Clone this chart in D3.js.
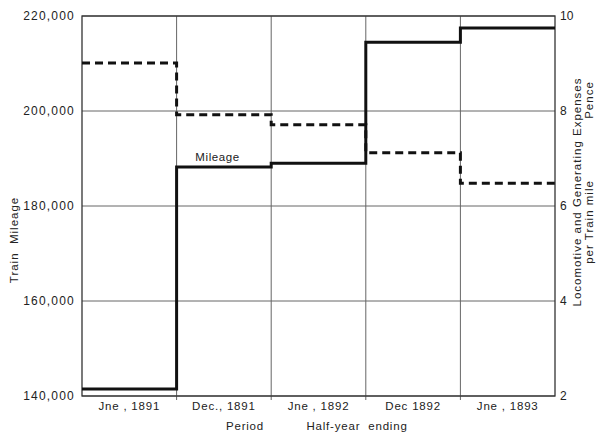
<!DOCTYPE html>
<html><head><meta charset="utf-8">
<script src="https://cdn.jsdelivr.net/npm/d3@7"></script>
<style>
html,body{margin:0;padding:0;background:#fff;}
text{font-family:"Liberation Sans",Arial,sans-serif;fill:#222;white-space:pre;}
</style></head>
<body>
<svg id="c" width="596" height="436"></svg>
<script>
const periods = ["Jne , 1891", "Dec., 1891", "Jne , 1892", "Dec 1892", "Jne , 1893"];
const mileage = [141500, 188200, 189000, 214500, 217500];
const expenses = [9.01, 7.92, 7.71, 7.12, 6.48];
const leftTicks = [140000, 160000, 180000, 200000, 220000];
const rightTicks = [2, 4, 6, 8, 10];

const svg = d3.select("#c");
const L = 82, R = 555, T = 16, B = 396;
const x = d3.scaleBand().domain(periods).range([L, R]).padding(0);
const yL = d3.scaleLinear().domain([140000, 220000]).range([B, T]);
const yR = d3.scaleLinear().domain([2, 10]).range([B, T]);
const fmt = d3.format(",");

// grid
const g = svg.append("g");
g.selectAll("line.h").data(leftTicks).join("line")
  .attr("x1", L).attr("x2", R).attr("y1", d => yL(d)).attr("y2", d => yL(d))
  .attr("stroke", "#666").attr("stroke-width", 1);
g.selectAll("line.v").data(periods.slice(1)).join("line")
  .attr("x1", d => x(d)).attr("x2", d => x(d)).attr("y1", T).attr("y2", B + 4)
  .attr("stroke", "#666").attr("stroke-width", 1);
// frame
svg.append("rect").attr("x", L).attr("y", T).attr("width", R - L).attr("height", B - T)
  .attr("fill", "none").attr("stroke", "#333").attr("stroke-width", 1.3);

// left axis
const axL = svg.append("g").attr("transform", `translate(${L},0)`)
  .call(d3.axisLeft(yL).tickValues(leftTicks).tickFormat(fmt).tickSize(0).tickPadding(7));
axL.select(".domain").remove();
axL.selectAll("text").style("font-size", "12px").style("letter-spacing", "1.2px").attr("fill", "#222");

// right axis
const axR = svg.append("g").attr("transform", `translate(${R},0)`)
  .call(d3.axisRight(yR).tickValues(rightTicks).tickSize(0).tickPadding(5));
axR.select(".domain").remove();
axR.selectAll("text").style("font-size", "12px").attr("fill", "#222");

// bottom axis labels
const axB = svg.append("g").attr("transform", `translate(0,${B})`)
  .call(d3.axisBottom(x).tickSize(0).tickPadding(6));
axB.select(".domain").remove();
axB.selectAll("text").style("font-size", "11.5px").style("letter-spacing", "0.8px").attr("fill", "#222");

// step lines
function stepPts(vals, sc) {
  const pts = [];
  periods.forEach((p, i) => {
    pts.push([x(p), sc(vals[i])]);
    pts.push([x(p) + x.bandwidth(), sc(vals[i])]);
  });
  return pts;
}
const line = d3.line();
svg.append("path").attr("d", line(stepPts(expenses, yR)))
  .attr("fill", "none").attr("stroke", "#111").attr("stroke-width", 3)
  .attr("stroke-dasharray", "8,5");
svg.append("path").attr("d", line(stepPts(mileage, yL)))
  .attr("fill", "none").attr("stroke", "#111").attr("stroke-width", 3);

// labels
svg.append("text").attr("x", x(periods[1]) + 41).attr("y", yL(mileage[1]) - 6)
  .attr("text-anchor", "middle").style("font-size", "11.5px").style("letter-spacing", "0.6px").text("Mileage");

svg.append("text").attr("transform", "translate(18,240) rotate(-90)")
  .attr("text-anchor", "middle").style("font-size", "11.5px").style("letter-spacing", "1px").text("Train  Mileage");

svg.append("text").attr("x", 245).attr("y", 430).attr("text-anchor", "middle")
  .style("font-size", "11.5px").style("letter-spacing", "0.8px").text("Period");
svg.append("text").attr("x", 357).attr("y", 430).attr("text-anchor", "middle")
  .style("font-size", "11.5px").style("letter-spacing", "0.8px").text("Half-year  ending");

svg.append("text").attr("transform", "translate(581,192) rotate(-90)")
  .attr("text-anchor", "middle").style("font-size", "11.5px").style("letter-spacing", "1px")
  .text("Locomotive and Generating Expenses");
svg.append("text").attr("transform", "translate(593,100) rotate(-90)")
  .attr("text-anchor", "middle").style("font-size", "11.5px").style("letter-spacing", "1px").text("Pence");
svg.append("text").attr("transform", "translate(593,222) rotate(-90)")
  .attr("text-anchor", "middle").style("font-size", "11.5px").style("letter-spacing", "1px").text("per Train mile");
</script>
</body></html>
